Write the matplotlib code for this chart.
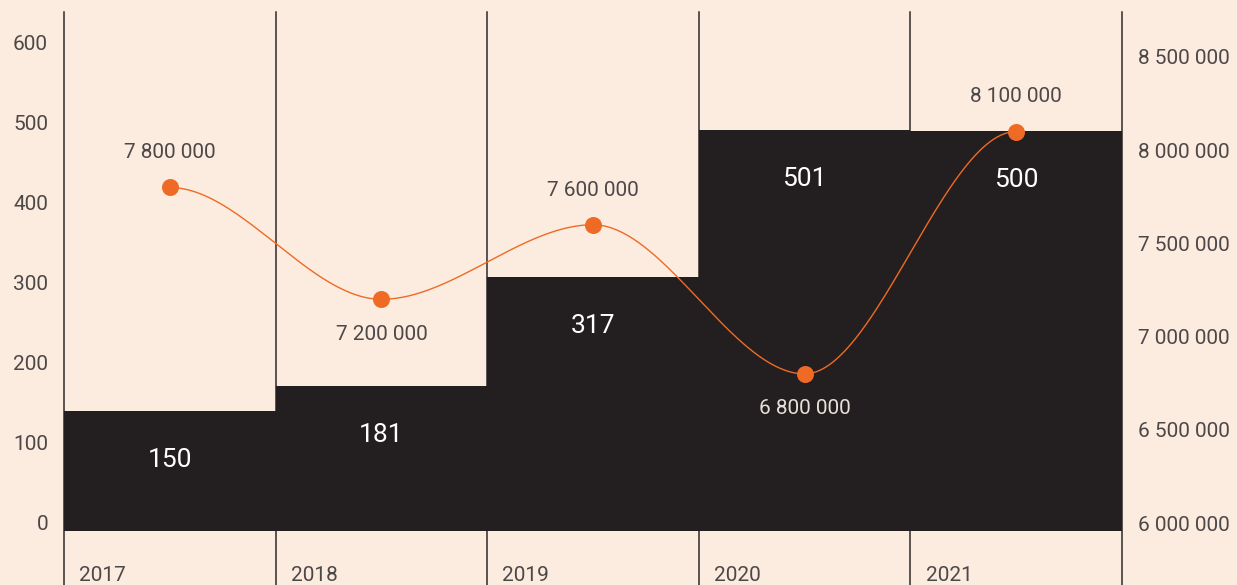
import numpy as np
import matplotlib
matplotlib.use("Agg")
import matplotlib.pyplot as plt
import matplotlib.transforms as mtransforms

years = ["2017", "2018", "2019", "2020", "2021"]
counts = [150, 181, 317, 501, 500]
amounts = [7800000, 7200000, 7600000, 6800000, 8100000]
left_ticks = [0, 100, 200, 300, 400, 500, 600]
right_ticks = [6000000, 6500000, 7000000, 7500000, 8000000, 8500000]

BG = "#fcebdf"
DARK = "#231f20"
ORANGE = "#ef6a25"
GREY = "#4d4848"
LIGHT = "#e8dfda"

plt.rcParams["font.family"] = ["Roboto", "DejaVu Sans"]


def spline_tangents(x, y):
    # monotone (Steffen) inside, flat at both ends
    n = len(x)
    h = np.diff(x)
    s = np.diff(y) / h
    t = np.zeros(n)
    for i in range(1, n - 1):
        p = (s[i - 1] * h[i] + s[i] * h[i - 1]) / (h[i - 1] + h[i])
        t[i] = (np.sign(s[i - 1]) + np.sign(s[i])) * min(abs(s[i - 1]), abs(s[i]), 0.5 * abs(p))
    return t


def smooth_curve(x, y, steps=80):
    x = np.asarray(x, float)
    y = np.asarray(y, float)
    t = spline_tangents(x, y)
    xs, ys = [], []
    for i in range(len(x) - 1):
        h = x[i + 1] - x[i]
        u = np.linspace(0, 1, steps)
        h00 = 2 * u**3 - 3 * u**2 + 1
        h10 = u**3 - 2 * u**2 + u
        h01 = -2 * u**3 + 3 * u**2
        h11 = u**3 - u**2
        xs.append(x[i] + u * h)
        ys.append(h00 * y[i] + h10 * h * t[i] + h01 * y[i + 1] + h11 * h * t[i + 1])
    return np.concatenate(xs), np.concatenate(ys)


fig = plt.figure(figsize=(12.37, 5.85), dpi=100, facecolor=BG)
ax = fig.add_axes([64 / 1237, 0, (1122 - 64) / 1237, 1 - 12 / 585])
ax.set_facecolor(BG)
pos = np.arange(len(years))

ax.set_xlim(-0.5, len(years) - 0.5)
ax.set_ylim(-67.5, 648.75)

# category separators
for b in np.arange(len(years) + 1) - 0.5:
    ax.axvline(b, color="#2e2929", lw=1.1, zorder=1, clip_on=False)

ax.bar(pos, counts, width=1.0, color=DARK, zorder=2, linewidth=0)
for x, c in zip(pos, counts):
    ax.annotate(str(c), (x, c), xytext=(0, -35), textcoords="offset points",
                ha="center", va="center", color="white", fontsize=19, zorder=3)

for i, yr in enumerate(years):
    ax.annotate(yr, (i - 0.5, 0), xytext=(11, -32), textcoords="offset points",
                ha="left", va="center", color=GREY, fontsize=15,
                annotation_clip=False)

ax.set_xticks([])
ax.set_yticks(left_ticks)
ax.set_yticklabels([str(v) for v in left_ticks])
ax.tick_params(axis="y", length=0, pad=11.5, labelsize=15, labelcolor=GREY)
off = mtransforms.ScaledTranslation(0, 8 / 100, fig.dpi_scale_trans)
for lab in ax.get_yticklabels():
    lab.set_transform(lab.get_transform() + off)
for sp in ax.spines.values():
    sp.set_visible(False)

ax2 = ax.twinx()
ax2.set_ylim(5667400, 8741400)
cx, cy = smooth_curve(pos, amounts)
ax2.plot(cx, cy, color=ORANGE, lw=1, zorder=4)
ax2.scatter(pos, amounts, s=150, color=ORANGE, zorder=5, linewidths=0)

# map right-axis values to left-axis units to see if a label sits on a bar
to_left = ax2.transData + ax.transData.inverted()
px_per_unit = ax.transData.transform((0, 1))[1] - ax.transData.transform((0, 0))[1]

for i, (x, v) in enumerate(zip(pos, amounts)):
    prev_v = amounts[i - 1] if i > 0 else None
    next_v = amounts[i + 1] if i < len(amounts) - 1 else None
    nb = [n for n in (prev_v, next_v) if n is not None]
    below = all(v < n for n in nb)
    dy = -25 if below else 25
    label_y = to_left.transform((x, v))[1] + dy * 100 / 72 / px_per_unit
    col = LIGHT if label_y < counts[i] else GREY
    ax2.annotate(f"{v:,}".replace(",", " "), (x, v), xytext=(0, dy),
                 textcoords="offset points", ha="center", va="center",
                 color=col, fontsize=15)

ax2.set_yticks(right_ticks)
ax2.set_yticklabels([f"{v:,}".replace(",", " ") for v in right_ticks])
ax2.tick_params(axis="y", length=0, pad=11.5, labelsize=15, labelcolor=GREY)
for sp in ax2.spines.values():
    sp.set_visible(False)

fig.savefig("out.png", dpi=100, facecolor=BG)
